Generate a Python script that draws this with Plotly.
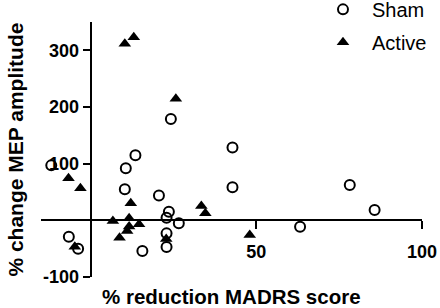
import plotly.graph_objects as go

# Sham group: % reduction MADRS score vs % change MEP amplitude
sham_x = [-11.9, -6.6, -3.8, 10.6, 13.5, 10.3, 15.6, 20.6, 23.6, 22.9, 26.6, 22.9, 22.9, 24.2, 42.8, 42.8, 63.2, 78.2, 85.7]
sham_y = [97, -29, -50, 92, 115, 55, -54, 44, 15, 4.6, -5.3, -23, -47, 179, 128.5, 58.4, -11.3, 62.5, 18.2]

# Active group
active_x = [-6.7, -3.1, -4.8, 10.3, 13.0, 25.7, 12.1, 6.7, 11.6, 11.6, 11.0, 14.6, 8.7, 33.4, 34.6, 48.0, 22.8]
active_y = [74.3, 56.6, -46.7, 311.5, 323, 214.7, 30, -1, 3.5, -11, -19, -7, -30.8, 25.3, 12.4, -26, -33]

x_range = [-15, 100]
y_range = [-100, 350]
x_ticks = [50, 100]
y_ticks = [-100, 100, 200, 300]

FONT = "Liberation Sans, Arial, sans-serif"

fig = go.Figure()
fig.add_trace(go.Scatter(
    x=sham_x, y=sham_y, mode="markers", name="Sham", legendgroup="sham",
    marker=dict(symbol="circle-open", size=10, color="black", line=dict(width=2, color="black")),
))
fig.add_trace(go.Scatter(
    x=active_x, y=active_y, mode="markers", name="Active", legendgroup="active",
    marker=dict(symbol="triangle-up", size=11, color="black", line=dict(width=0)),
))

x0_frac = (0 - x_range[0]) / (x_range[1] - x_range[0])
y0_frac = (0 - y_range[0]) / (y_range[1] - y_range[0])

fig.update_layout(
    width=440, height=308,
    margin=dict(l=41, r=18, t=22, b=31, autoexpand=False),
    plot_bgcolor="white", paper_bgcolor="white",
    font=dict(family=FONT, color="black"),
    xaxis=dict(
        range=x_range, tickvals=x_ticks, ticktext=[str(v) for v in x_ticks],
        showgrid=False, zeroline=False, showline=True, linewidth=2, linecolor="black",
        ticks="outside", ticklen=8, tickwidth=2, tickcolor="black",
        tickfont=dict(size=18, weight="bold", family=FONT),
        ticklabelstandoff=7,
        anchor="free", position=y0_frac,
    ),
    yaxis=dict(
        range=y_range, tickvals=y_ticks, ticktext=[str(v) for v in y_ticks],
        showgrid=False, zeroline=False, showline=True, linewidth=2, linecolor="black",
        ticks="outside", ticklen=7, tickwidth=2, tickcolor="black",
        tickfont=dict(size=18, weight="bold", family=FONT),
        anchor="free", position=x0_frac,
    ),
    showlegend=True,
    legend=dict(
        x=0.7165, y=1.126, xanchor="left", yanchor="top",
        font=dict(size=20, family=FONT),
        bgcolor="rgba(0,0,0,0)", itemwidth=48,
        traceorder="grouped", tracegroupgap=4,
    ),
    annotations=[
        dict(text="% reduction MADRS score", xref="paper", yref="paper",
             x=0.5, y=-0.078, xanchor="center", yanchor="middle", showarrow=False,
             font=dict(size=20.5, weight="bold", family=FONT)),
        dict(text="% change MEP amplitude", xref="paper", yref="paper",
             x=-0.068, y=0.50, xanchor="center", yanchor="middle", showarrow=False,
             textangle=-90, font=dict(size=21, weight="bold", family=FONT)),
    ],
)

fig.write_html(
    "out.html",
    config={"displayModeBar": False},
    post_script="document.body.style.margin='0';document.body.style.padding='0';",
)
